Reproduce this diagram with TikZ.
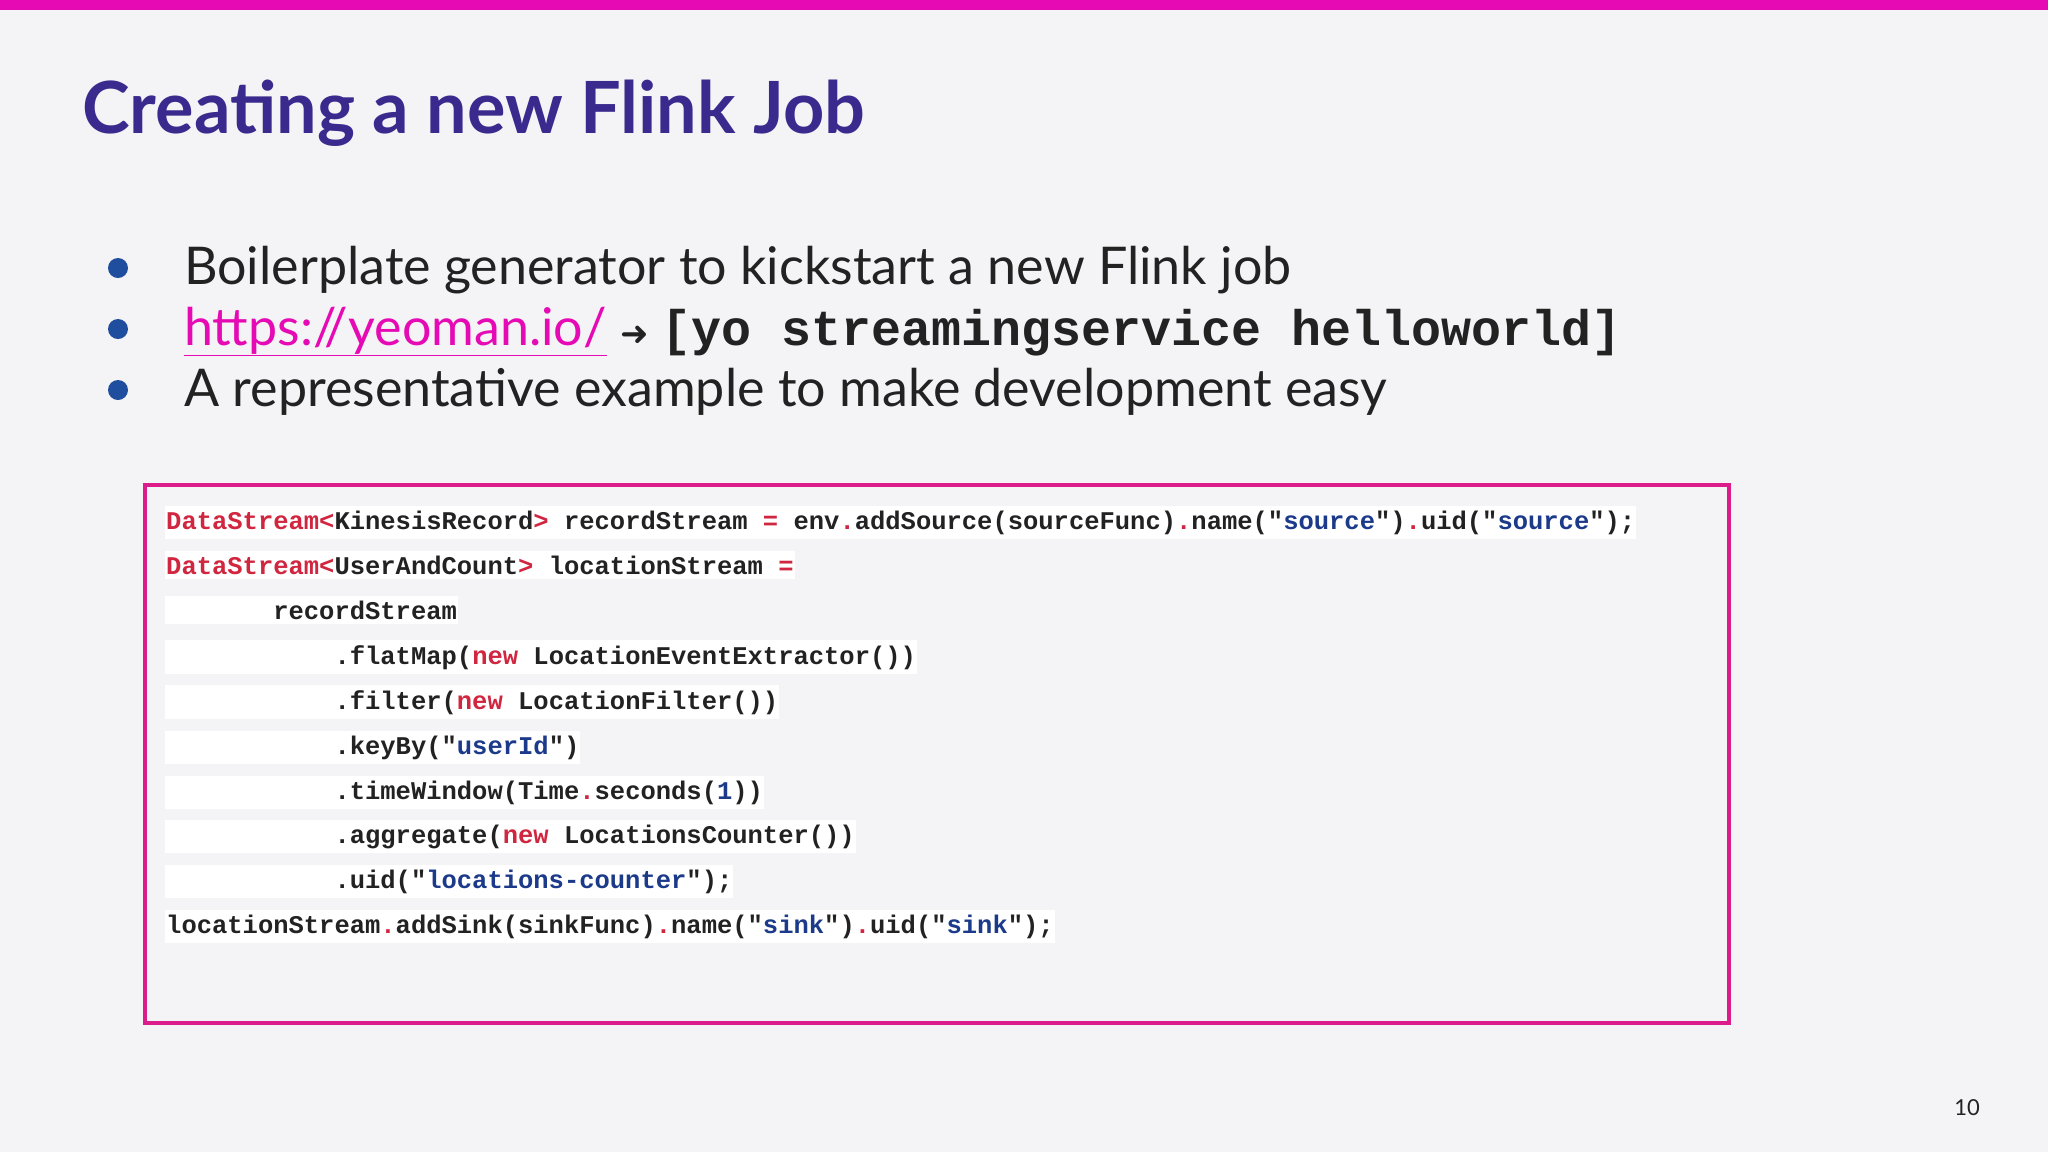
\documentclass[tikz,border=0pt]{standalone}
\usepackage{fontspec}
\setmainfont{Lato}
\setmonofont{Liberation Mono}
\newfontfamily\dejavu{DejaVu Sans}
\definecolor{bg}{HTML}{F4F3F5}
\definecolor{mag}{HTML}{E50AB4}
\definecolor{ttl}{HTML}{3B2A8E}
\definecolor{bul}{HTML}{1F4E9F}
\definecolor{cr}{HTML}{D0263F}
\definecolor{cb}{HTML}{1C3A8A}
\definecolor{ink}{HTML}{222222}
\definecolor{boxc}{HTML}{DD1C8C}
\newcommand\R[1]{\textcolor{cr}{#1}}
\newcommand\Bl[1]{\textcolor{cb}{#1}}
\tikzset{
 bullettext/.style={anchor=base west,inner sep=0pt,font=\fontsize{52}{60}\selectfont,text=ink},
 dot/.style={circle,fill=bul,minimum size=20pt,inner sep=0pt},
 codeline/.style={anchor=base west,fill=white,inner xsep=1pt,inner ysep=5pt,font=\fontsize{25.5}{30}\selectfont\ttfamily\bfseries,text=ink}
}
\begin{document}
\begin{tikzpicture}[x=1pt,y=-1pt]
\fill[bg] (0,0) rectangle (2048,1152);
\useasboundingbox (0,0) rectangle (2048,1152);
\fill[mag] (0,0) rectangle (2048,10);
\node[anchor=base west,inner sep=0pt,font=\fontsize{72}{80}\selectfont\bfseries,text=ttl] (title) at (82,133) {Creating a new Flink Job};
\node[dot] (d1) at (118,268) {};
\node[dot] (d2) at (118,329) {};
\node[dot] (d3) at (118,390) {};
\node[bullettext] (b1) at (184,284) {Boilerplate generator to kickstart a new Flink job};
\node[bullettext] (b2) at (184,345) {\textcolor{mag}{\underline{https://yeoman.io/}} {\dejavu\fontsize{34}{40}\selectfont ➜} {\fontsize{50}{60}\selectfont\ttfamily\bfseries[yo streamingservice helloworld]}};
\node[bullettext] (b3) at (184,406) {A representative example to make development easy};
\draw[boxc,line width=4pt] (145,485) rectangle (1729,1023);
\node[codeline] (c1) at (165,529) {\R{DataStream<}KinesisRecord\R{>} recordStream \R{=} env\R{.}addSource(sourceFunc)\R{.}name("\Bl{source}")\R{.}uid("\Bl{source}");};
\node[codeline] (c2) at (165,574) {\R{DataStream<}UserAndCount\R{>} locationStream \R{=}};
\node[codeline] (c3) at (165,619) {\phantom{0000000}recordStream};
\node[codeline] (c4) at (165,664) {\phantom{00000000000}.flatMap(\R{new} LocationEventExtractor())};
\node[codeline] (c5) at (165,709) {\phantom{00000000000}.filter(\R{new} LocationFilter())};
\node[codeline] (c6) at (165,754) {\phantom{00000000000}.keyBy("\Bl{userId}")};
\node[codeline] (c7) at (165,799) {\phantom{00000000000}.timeWindow(Time\R{.}seconds(\Bl{1}))};
\node[codeline] (c8) at (165,843) {\phantom{00000000000}.aggregate(\R{new} LocationsCounter())};
\node[codeline] (c9) at (165,888) {\phantom{00000000000}.uid("\Bl{locations-counter}");};
\node[codeline] (c10) at (165,933) {locationStream\R{.}addSink(sinkFunc)\R{.}name("\Bl{sink}")\R{.}uid("\Bl{sink}");};
\node[anchor=base,inner sep=0pt,font=\fontsize{22}{26}\selectfont,text=ink] (pg) at (1967,1115) {10};
\end{tikzpicture}
\end{document}
